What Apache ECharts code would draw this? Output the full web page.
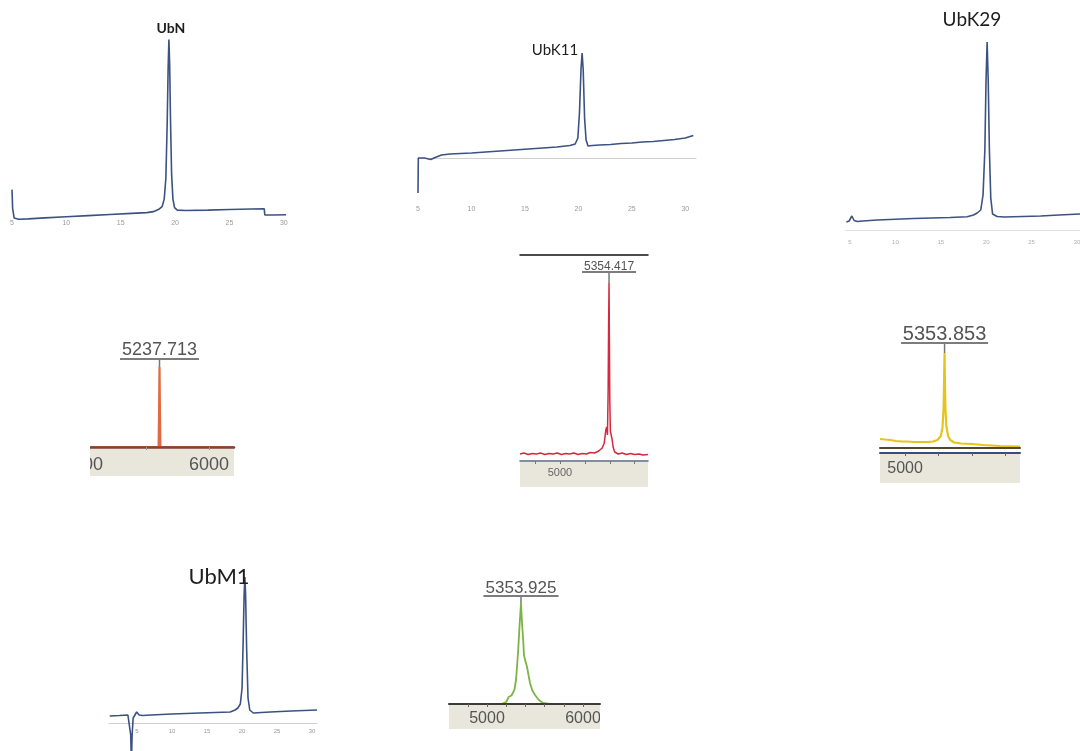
<!DOCTYPE html>
<html><head><meta charset="utf-8">
<script src="https://cdn.jsdelivr.net/npm/echarts@6/dist/echarts.min.js"></script>
<style>html,body{margin:0;padding:0;background:#fff}#c{width:1080px;height:751px}</style>
</head><body><div id="c"></div>
<script>
// ---------- DATA ----------
const hplcTicks = [5, 10, 15, 20, 25, 30];
const hplcNames = ['UbN', 'UbK11', 'UbK29', 'UbM1'];
const msPeakLabels = ['5237.713', '5354.417', '5353.853', '5353.925'];

// HPLC traces [time (min), absorbance (a.u.)]
const ubN = [[5.0,16],[5.06,6],[5.2,1],[5.6,0.4],[6.5,0.6],[8,1.1],[10,1.7],[12,2.3],[14,2.9],[16,3.5],[17.4,3.9],[18.0,4.4],[18.5,5.6],[18.8,7],[19.0,11],[19.15,22],[19.27,50],[19.36,80],[19.43,95],[19.5,82],[19.58,52],[19.68,24],[19.8,11],[19.95,6.5],[20.2,5.2],[21,5],[23,5.2],[25,5.5],[27,5.8],[28.2,5.9],[28.25,2.7],[29,2.6],[30.2,2.8]];
const ubK11 = [[5.0,-35],[5.03,0],[5.6,0],[6.2,-1.5],[6.6,0.5],[7.2,3],[8,4],[10,5],[12,6.5],[14,8],[16,9.5],[18,11],[19.2,12.5],[19.7,14],[19.95,20],[20.1,45],[20.25,90],[20.35,105],[20.45,88],[20.58,40],[20.72,18],[20.9,12],[21.3,12.5],[22,13],[23,13.5],[24,14.5],[25,15],[26,16],[27,16.5],[28,17.5],[29,18.5],[30,20],[30.75,22.5]];
const ubK29 = [[4.6,8],[4.9,9],[5.2,14],[5.45,9.5],[5.8,8.5],[6.4,9],[8,10],[10,10.8],[12,11.5],[14,12],[16,12.5],[17.9,13.2],[18.6,15],[19.0,17],[19.4,20],[19.65,35],[19.85,80],[19.98,150],[20.1,188],[20.22,150],[20.35,80],[20.5,32],[20.7,16],[21.2,13.5],[22,13],[24,13.5],[26,14],[28,15],[30.4,16]];
const ubM1 = [[1.1,7],[2.5,7.5],[3.7,8],[3.95,6],[4.1,-12],[4.2,-40],[4.3,-12],[4.45,5],[4.7,7],[4.95,11],[5.1,12],[5.3,8],[5.8,7.5],[7,8],[10,9],[14,10],[18.3,11],[19.0,13],[19.4,15],[19.75,19],[20.0,35],[20.15,80],[20.3,130],[20.4,146],[20.5,130],[20.65,75],[20.85,25],[21.1,13],[21.6,10],[24,11],[27,12],[30.7,13]];

// Mass spectra [m/z, intensity]
const msOrange = [[5000,0],[5600,0],[5604,40],[5607,80],[5610,40],[5614,0],[6198,0]];
const msRed = [[4711,7],[4740,8],[4770,6.5],[4800,7.5],[4830,7],[4860,8],[4890,6.5],[4920,7.5],[4950,7],[4980,8],[5010,6.5],[5040,7.5],[5070,7],[5100,8],[5130,6.5],[5160,7.5],[5190,7],[5220,8.5],[5250,8],[5280,10],[5305,13],[5320,18],[5330,30],[5337,34],[5343,26],[5348,70],[5351,130],[5354.4,178],[5357,120],[5360,60],[5364,30],[5370,26],[5376,22],[5384,14],[5395,9],[5420,7],[5450,8],[5480,6.5],[5510,7.5],[5540,6.5],[5570,7],[5600,6],[5636,6.5]];
const msYellow = [[4776,9],[4820,8.5],[4870,8],[4920,7],[4970,6.5],[5020,6.5],[5080,6],[5140,6],[5200,6],[5250,6.5],[5290,8],[5320,12],[5335,20],[5345,40],[5350,70],[5353.9,95],[5357,65],[5362,38],[5370,22],[5385,12],[5405,8],[5440,5.5],[5500,4.5],[5600,4],[5700,3],[5850,2],[6029,1.5]];
const msGreen = [[4604,0],[5150,0],[5200,2],[5225,7],[5240,9],[5255,8.5],[5270,8],[5285,14],[5302,24],[5323,51],[5340,80],[5353.9,101],[5365,80],[5375,67],[5385,49],[5400,43],[5417,37],[5432,29],[5448,21],[5470,14],[5500,9],[5540,4],[5583,1],[5650,0],[6177,0]];

// MS axis ticks / labels
const orangeTicks = [5500, 6000], orangeLabels = [5000, 6000];
const redTicks = [4820, 5000, 5180, 5360, 5540], redLabels = [5000];
const yellowTicks = [5000, 5300, 5600, 5900], yellowLabels = [5000];
const greenTicks = [4800, 5000, 5200, 5400, 5600, 5800, 6000], greenLabels = [5000, 6000];

// ---------- CHART ----------
const F = "'Liberation Sans', Arial, sans-serif";
const L = "Lato, 'Open Sans', sans-serif";

const grids = [
  {left: 12, top: 30, width: 274, height: 190},     // 0 UbN
  {left: 418, top: 48, width: 278, height: 150},    // 1 UbK11
  {left: 845.5, top: 40, width: 234.5, height: 190},// 2 UbK29
  {left: 83, top: 340, width: 151, height: 107},    // 3 orange MS
  {left: 520, top: 255, width: 128, height: 206},   // 4 red MS
  {left: 880, top: 340, width: 140, height: 108},   // 5 yellow MS
  {left: 109, top: 578, width: 208, height: 145},   // 6 UbM1
  {left: 449, top: 590, width: 151, height: 114}    // 7 green MS
].map(g => Object.assign({show: false, containLabel: false, outerBoundsMode: 'none'}, g));

function xa(o) {
  return {
    type: 'value', gridIndex: o.g, min: o.min, max: o.max,
    position: o.position || 'bottom', offset: o.offset || 0, z: o.z || 0,
    axisLine: {show: !!o.lineColor, onZero: !!o.onZero, lineStyle: {color: o.lineColor || '#000', width: o.lineWidth || 1}},
    axisTick: {show: !!o.ticks, customValues: o.ticks, length: 3, lineStyle: {color: o.tickColor || '#888', width: 1}},
    axisLabel: {show: !!o.labels, customValues: o.labels, margin: o.margin || 0, fontSize: o.fs || 7,
      color: o.lc || '#9a9a9a', fontFamily: F, formatter: v => String(v)},
    splitLine: {show: false}
  };
}
const xAxes = [
  xa({g: 0, min: 5, max: 30.2, labels: hplcTicks, margin: 0, fs: 7}),
  xa({g: 1, min: 5, max: 31, labels: hplcTicks, margin: 8, fs: 7, lineColor: '#d0d0d0', onZero: true}),
  xa({g: 2, min: 4.5, max: 30.33, labels: hplcTicks, margin: 9, fs: 6, lc: '#b0b0b0', lineColor: '#e0e0e0', onZero: true}),
  xa({g: 3, min: 5000, max: 6198, labels: orangeLabels, ticks: orangeTicks, margin: 9, fs: 18, lc: '#555',
      lineColor: '#7e4636', lineWidth: 2.5, z: 5, tickColor: '#999'}),
  xa({g: 4, min: 4711, max: 5636, labels: redLabels, ticks: redTicks, margin: 6, fs: 11, lc: '#666',
      lineColor: '#5b6b82', lineWidth: 1.5, z: 5, tickColor: '#777'}),
  xa({g: 5, min: 4776, max: 6029, lineColor: '#4d4a30', lineWidth: 2, z: 5}),
  xa({g: 6, min: 1, max: 30.7, labels: hplcTicks, margin: 5, fs: 6, lineColor: '#d0d0d0'}),
  xa({g: 7, min: 4604, max: 6177, labels: greenLabels, ticks: greenTicks, margin: 7, fs: 16, lc: '#555',
      lineColor: '#3a3a3a', lineWidth: 2, z: 5, tickColor: '#666'}),
  xa({g: 4, min: 4711, max: 5636, position: 'top', lineColor: '#111', lineWidth: 1.5}),
  xa({g: 5, min: 4776, max: 6029, offset: 5, labels: yellowLabels, ticks: yellowTicks, margin: 8, fs: 16, lc: '#555',
      lineColor: '#3d4a7e', lineWidth: 2, z: 5, tickColor: '#666'})
];
const yr = [[0,100],[-40,110],[0,190],[0,107],[0,206],[0,108],[0,145],[0,114]];
const yAxes = yr.map((r, i) => ({type: 'value', gridIndex: i, min: r[0], max: r[1], show: false}));

const ctx = document.createElement('canvas').getContext('2d');
function textW(t, fs) { ctx.font = fs + "px 'Liberation Sans'"; return ctx.measureText(t).width; }
function peakOf(d) { return d.reduce((a, b) => (b[1] > a[1] ? b : a)); }
function msMark(d, text, fs, lh, len) {
  return {
    symbol: 'rect', symbolSize: [1.5, len], symbolOffset: [0, -len / 2],
    itemStyle: {color: '#777'}, silent: true, animation: false,
    label: {show: true, position: 'top', distance: 1, align: 'center', formatter: '{t|' + text + '}\n{u|}',
      rich: {t: {fontSize: fs, lineHeight: lh, color: '#555', fontFamily: F, align: 'center'},
             u: {width: Math.round(textW(text, fs) + 4), height: 0, borderColor: '#333', borderWidth: 0.8, align: 'center'}}},
    data: [{coord: peakOf(d)}]
  };
}
function ln(i, d, color, w, extra) {
  return Object.assign({type: 'line', xAxisIndex: i, yAxisIndex: i, data: d, symbol: 'none', showSymbol: false,
    silent: true, animation: false, z: 2, lineStyle: {color: color, width: w}}, extra || {});
}
const hc = '#3c5282';
const series = [
  ln(0, ubN, hc, 1.6),
  ln(1, ubK11, hc, 1.6),
  ln(2, ubK29, hc, 1.6),
  ln(3, msOrange, '#e06a42', 2.2, {markPoint: msMark(msOrange, msPeakLabels[0], 18, 18, 7)}),
  ln(4, msRed, '#d6283e', 1.5, {markPoint: msMark(msRed, msPeakLabels[1], 12, 11, 10)}),
  ln(5, msYellow, '#e6c41e', 2.2, {markPoint: msMark(msYellow, msPeakLabels[2], 20, 17, 9)}),
  ln(6, ubM1, hc, 1.6, {clip: false}),
  ln(7, msGreen, '#7cb445', 1.8, {markPoint: msMark(msGreen, msPeakLabels[3], 17, 16, 6)})
];

function band(x, y, w, h) {
  return {type: 'rect', shape: {x: x, y: y, width: w, height: h}, style: {fill: '#e9e6dc'}, z: -1, silent: true};
}
function mask(x, y, w, h) {
  return {type: 'rect', shape: {x: x, y: y, width: w, height: h}, style: {fill: '#fff'}, z: 100, silent: true};
}
function label(t, x, y, size, weight) {
  return {type: 'text', x: x, y: y, z: 50, silent: true,
    style: {text: t, fontSize: size, fontWeight: weight || 'normal', fontFamily: L, fill: '#1e1e1e',
      align: 'center', verticalAlign: 'middle'}};
}
const graphics = [
  band(90, 448, 144, 28), band(520, 462, 128, 25), band(880, 454, 140, 29), band(449, 705, 151, 24),
  mask(50, 438, 40, 42), mask(600, 705, 40, 30),
  label(hplcNames[0], 171, 28, 14, 'bold'),
  label(hplcNames[1], 555, 50, 15),
  label(hplcNames[2], 972, 20, 19),
  label(hplcNames[3], 219, 577, 22)
];

const chart = echarts.init(document.getElementById('c'), null, {renderer: 'canvas'});
chart.setOption({
  animation: false,
  backgroundColor: '#fff',
  grid: grids, xAxis: xAxes, yAxis: yAxes, series: series,
  graphic: {elements: graphics}
});
</script></body></html>
